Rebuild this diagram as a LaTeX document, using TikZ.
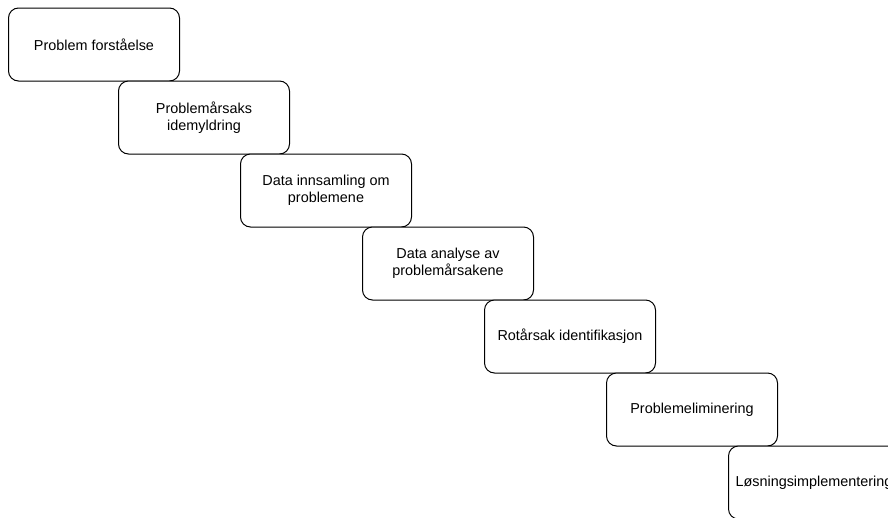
\documentclass[tikz,border=0pt]{standalone}
\usepackage{fontspec}
\setmainfont{Liberation Sans}
\begin{document}
\begin{tikzpicture}[x=1pt,y=-1pt,
  stepbox/.style={draw=black, line width=1pt, fill=white, rounded corners=10pt,
    minimum width=171pt, minimum height=73pt, inner sep=0pt, anchor=north west,
    align=center, font=\fontsize{14.4}{17.3}\selectfont}]
\useasboundingbox (0,0) rectangle (888,517);
\begin{scope}
  \clip (0,0) rectangle (888,517);
  % staircase of process steps
  \node[stepbox] (s1) at (8,7.5)   {Problem forståelse};
  \node[stepbox] (s2) at (118,80.5) {Problemårsaks\\idemyldring};
  \node[stepbox] (s3) at (240,153.5) {Data innsamling om\\problemene};
  \node[stepbox] (s4) at (362,226.5) {Data analyse av\\problemårsakene};
  \node[stepbox] (s5) at (484,299.5) {Rotårsak identifikasjon};
  \node[stepbox] (s6) at (606,372.5) {Problemeliminering};
  \node[stepbox] (s7) at (728,445.5) {Løsningsimplementering};
\end{scope}
\end{tikzpicture}
\end{document}
